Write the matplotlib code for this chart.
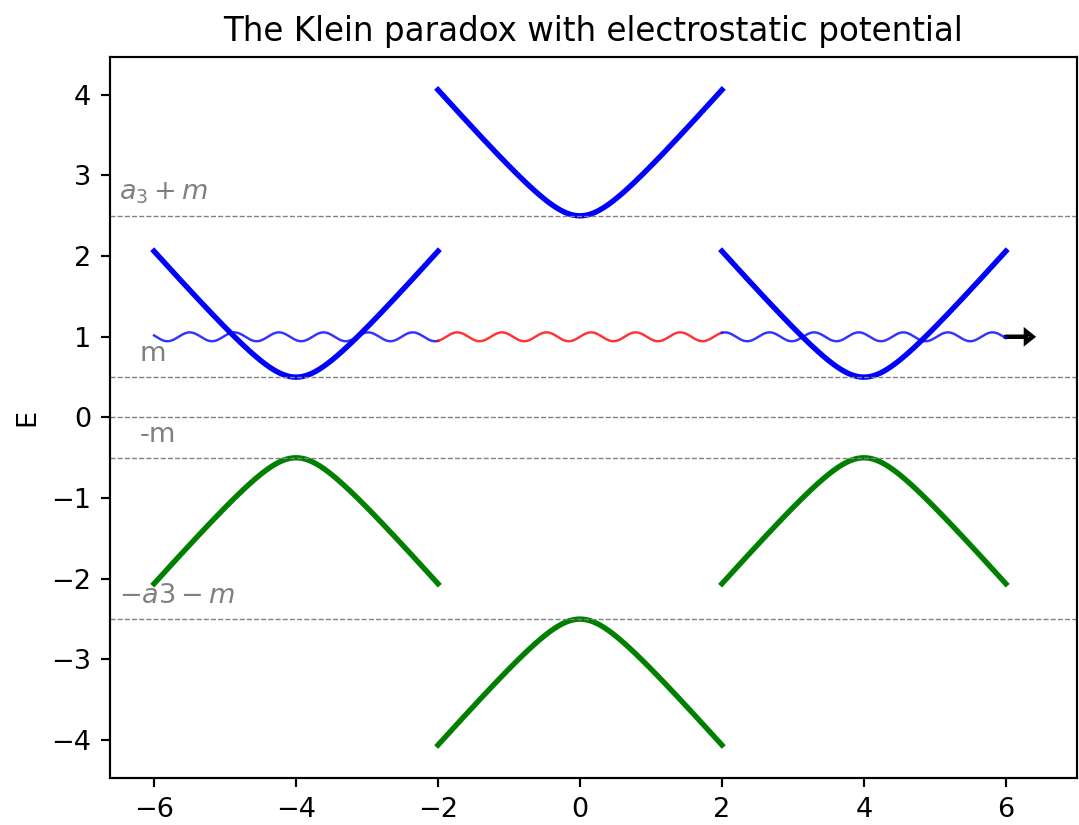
import matplotlib

matplotlib.use("Agg")
import matplotlib.pyplot as plt
import numpy as np

# values
mass = 0.5          # gap half-width (m)
a3 = 2.0            # electrostatic potential in the barrier
lead_centres = [-4.0, 4.0]
barrier_centre = 0.0
half_width = 2.0
wave_level = 1.0
wave_amp = 0.055
wave_freq = 10.0
level_lines = [2.5, 0.5, 0.0, -0.5, -2.5]
level_labels = ["$a_3 + m$", "m", "-m", "$-a3 - m$"]
label_pos = [(-6.5, 2.7), (-6.2, 0.7), (-6.2, -0.3), (-6.5, -2.3)]

DPI = 195
fig = plt.figure(figsize=(1079 / DPI, 825 / DPI), dpi=DPI)
ax = fig.add_axes([0.102, 0.057, 0.896, 0.874])

k = np.linspace(-half_width, half_width, 200)
band = np.sqrt(k ** 2 + mass ** 2)

for c in lead_centres:
    ax.plot(k + c, band, color="blue", lw=2)
    ax.plot(k + c, -band, color="green", lw=2)
ax.plot(k + barrier_centre, band + a3, color="blue", lw=2)
ax.plot(k + barrier_centre, -band - a3, color="green", lw=2)

for y in level_lines:
    ax.axhline(y, color="gray", ls="--", lw=0.5)

for txt, (x, y) in zip(level_labels, label_pos):
    ax.text(x, y, txt, color="gray", fontsize=10)

# incoming/transmitted wave
for x0, x1, col in [(-6, -2, "blue"), (-2, 2, "red"), (2, 6, "blue")]:
    xs = np.linspace(x0, x1, 300)
    ax.plot(xs, wave_level + wave_amp * np.sin(wave_freq * xs), color=col, lw=0.9, alpha=0.8)

ax.arrow(6, wave_level, 0.28, 0, head_width=0.14, head_length=0.1, lw=1.5,
         fc="C0", ec="k")

ax.set_xlim(-6.62, 7.0)
ax.set_ylim(-4.47, 4.47)
ax.set_ylabel("E")
ax.set_title("The Klein paradox with electrostatic potential")

fig.savefig("out.png", dpi=DPI)
